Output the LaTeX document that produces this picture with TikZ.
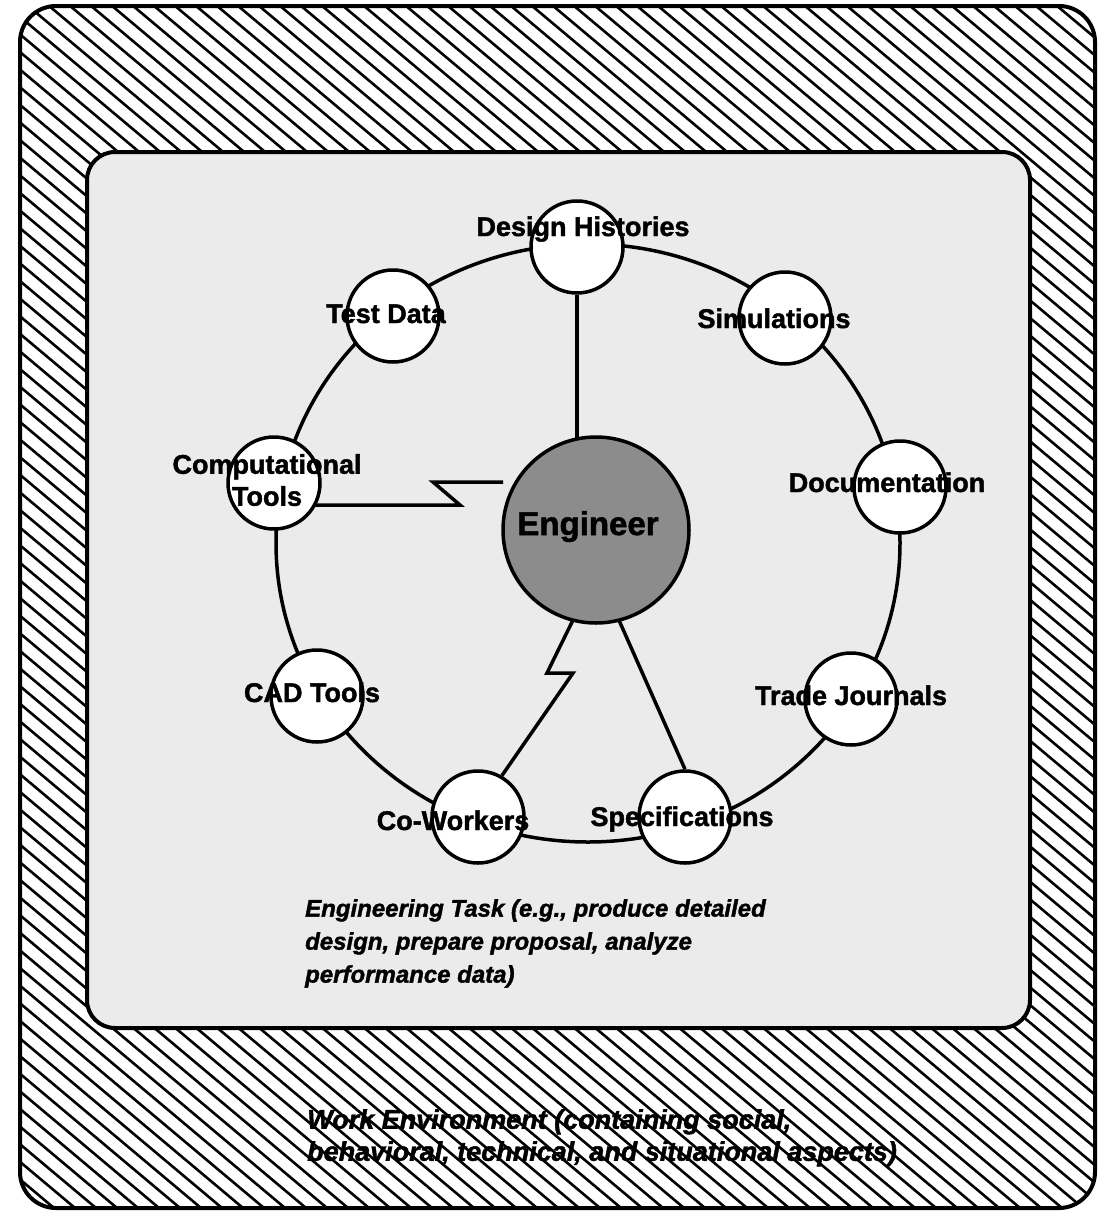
\documentclass[tikz,border=0pt]{standalone}
\usepackage{fontspec}
\setmainfont{Liberation Sans}[BoldFeatures={FakeBold=1.6}, BoldItalicFeatures={FakeBold=1.6}]
\usetikzlibrary{calc}
\pgfdeclarelayer{back}
\pgfsetlayers{back,main}
\tikzset{
  res/.style={circle, draw, line width=3.5pt, fill=white, minimum size=92pt, inner sep=0pt},
  lbl/.style={font=\fontsize{27}{32}\selectfont\bfseries, inner sep=0pt, anchor=base},
  conn/.style={line width=3.5pt, line join=miter},
  hatchline/.style={line width=2.6pt},
  frame/.style={line width=4pt},
  note/.style={font=\fontsize{24}{33}\selectfont\bfseries\itshape, align=left, anchor=north west, inner sep=0pt}
}
\begin{document}
\begin{tikzpicture}[x=1pt,y=-1pt]
\useasboundingbox (0,0) rectangle (1100,1213);

% nodes
\node[res] (dh) at (577,247) {};
\node[res] (td) at (393,316) {};
\node[res] (sim) at (785,318) {};
\node[res] (ct) at (274,483) {};
\node[res] (doc) at (900,487) {};
\node[res] (cad) at (317,696) {};
\node[res] (tj) at (851,699) {};
\node[res] (cw) at (478,817) {};
\node[res] (spec) at (685,817) {};
\node[circle, draw, line width=3.5pt, fill=black!45, minimum size=186pt, inner sep=0pt] (eng) at (596,530) {};

\begin{pgfonlayer}{back}
  \begin{scope}
    \clip[rounded corners=36pt] (20,6) rectangle (1095,1208);
    \foreach \i in {-70,...,53} \draw[hatchline] (\i*21,0) -- ++(1446,1213);
  \end{scope}
  \draw[frame, fill=black!8, rounded corners=28pt] (87,152) rectangle (1030,1028);
  \draw[frame, rounded corners=36pt] (20,6) rectangle (1095,1208);
  \coordinate (ringc) at (588,543);
  \draw[conn] (ringc) ellipse [x radius=312pt, y radius=299pt];
  % connectors
  \draw[conn] (dh) -- (dh |- eng.center);
  \coordinate (ctend) at (503,482);
  \draw[conn] ($(ct)+(0,22)$) -- (460,505) -- (433,482) -- (ctend);
  \draw[conn] ($(eng)+(-22,88)$) -- (547,673) -- (573,673) -- (cw.60);
  \draw[conn] ($(eng)+(22,88)$) -- (spec.north);
\end{pgfonlayer}

% labels
\node[lbl] (dhl) at (583,236) {Design Histories};
\node[lbl] (tdl) at (386,323) {Test Data};
\node[lbl] (siml) at (774,328) {Simulations};
\node[lbl, anchor=north, align=center] (ctl) at (267,454) {Computational\\Tools};
\node[lbl] (docl) at (887,492) {Documentation};
\node[lbl] (cadl) at (312,702) {CAD Tools};
\node[lbl] (tjl) at (851,705) {Trade Journals};
\node[lbl] (cwl) at (453,830) {Co-Workers};
\node[lbl] (specl) at (682,826) {Specifications};
\node[font=\fontsize{33}{36}\selectfont\bfseries, inner sep=0pt, anchor=base] (engl) at (588,535) {Engineer};

\node[note] (task) at (305,899) {Engineering Task (e.g., produce detailed\\design, prepare proposal, analyze\\performance data)};
\node[note, font=\fontsize{27}{32}\selectfont\bfseries\itshape] (env) at (307,1109) {Work Environment (containing social,\\behavioral, technical, and situational aspects)};
\end{tikzpicture}
\end{document}
